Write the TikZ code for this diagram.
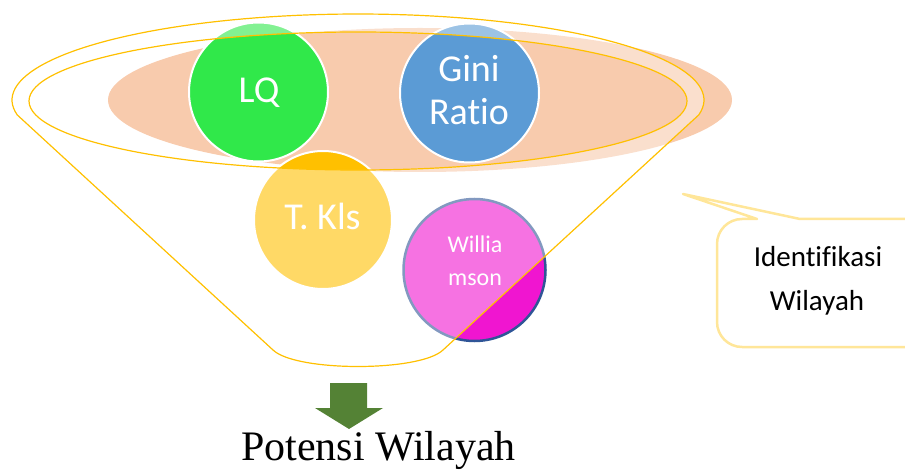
\documentclass[tikz,border=0pt]{standalone}
\usepackage{fontspec}
\setmainfont{Liberation Serif}
\newfontfamily\calfont[Ligatures=NoCommon]{Carlito}

\definecolor{funnelgold}{HTML}{FFC000}
\definecolor{peach}{HTML}{F8CBAD}
\definecolor{lqgreen}{HTML}{30E84A}
\definecolor{giniblue}{HTML}{5B9BD5}
\definecolor{klsgold}{HTML}{FFC000}
\definecolor{willmagenta}{HTML}{F015D0}
\definecolor{willedge}{HTML}{2F5597}
\definecolor{calloutedge}{HTML}{FFE699}
\definecolor{arrowgreen}{HTML}{548235}

\begin{document}
\begin{tikzpicture}[x=1pt,y=-1pt,
  bubble/.style={circle, inner sep=0pt, minimum size=#1},
  bigtext/.style={anchor=base, inner sep=0pt, text=white, font=\calfont\fontsize{38}{46}\selectfont},
  smalltext/.style={anchor=base, inner sep=0pt, text=white, font=\calfont\fontsize{24}{30}\selectfont},
  callouttext/.style={anchor=base, inner sep=0pt, text=black, font=\calfont\fontsize{29}{35}\selectfont},
  funnelline/.style={draw=funnelgold, line width=1.2pt}
]
\clip (0,0) rectangle (905,470);

% backdrop ellipse inside the funnel mouth
\fill[peach] (420,100) ellipse [x radius=312, y radius=72];

% the four measures
\node[bubble=139, fill=lqgreen, draw=white, line width=2pt] (lq) at (258.5,92) {};
\node[bubble=139, fill=giniblue, draw=white, line width=2pt] (gini) at (469.5,93) {};
\node[bubble=138, fill=klsgold, draw=white, line width=2pt] (kls) at (323,220) {};
\node[bubble=142, fill=willmagenta, draw=willedge, line width=2.5pt] (will) at (474.5,270) {};

% funnel body: translucent white between rim and mouth
\path[funnelline, fill=white, fill opacity=0.4, even odd rule]
  plot[domain=170:370, samples=90] ({358+346*cos(\x)}, {100+86*sin(\x)})
  -- (443,350) .. controls (420,372) and (296,372) .. (273,350) -- cycle
  (358,101) ellipse [x radius=329, y radius=69];

% labels on the circles
\node[bigtext] (lqlabel) at (259,103) {LQ};
\node[bigtext] (ginilabel1) at (469,82) {Gini};
\node[bigtext] (ginilabel2) at (469,125) {Ratio};
\node[bigtext] (klslabel) at (322.5,230) {T. Kls};
\node[smalltext] (willlabel1) at (475,253) {Willia};
\node[smalltext] (willlabel2) at (475,286) {mson};

% callout box with pointer
\draw[calloutedge, line width=2.5pt, fill=white, line join=round]
  (930,347) -- (742,347)
  .. controls (728.2,347) and (717,335.8) .. (717,322)
  -- (717,244)
  .. controls (717,230.2) and (728.2,219) .. (742,219)
  -- (757,219) -- (683,194) -- (800,219) -- (930,219);
\node[callouttext] (callout1) at (818,267) {Identifikasi};
\node[callouttext] (callout2) at (817,311) {Wilayah};

% downward arrow and result
\fill[arrowgreen] (330,383) -- (367,383) -- (367,408) -- (383,408)
  -- (349,429) -- (315,408) -- (330,408) -- cycle;
\node[anchor=base, inner sep=0pt, font=\fontsize{42}{50}\selectfont] (result) at (378.5,460) {Potensi Wilayah};
\end{tikzpicture}
\end{document}
